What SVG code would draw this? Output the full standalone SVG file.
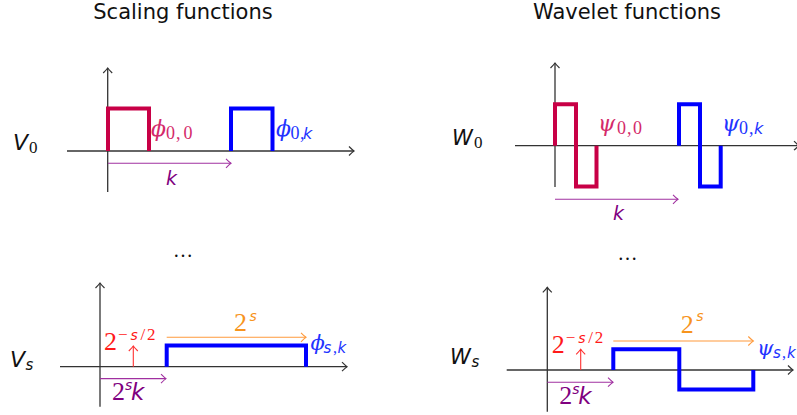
<svg xmlns="http://www.w3.org/2000/svg" width="797" height="415" viewBox="0 0 797 415">
<style>
.title{font-family:"DejaVu Sans",sans-serif;font-size:21px;fill:#111;text-anchor:middle}
.ax{stroke:#333;stroke-width:1.3;fill:none}
.fn{stroke-width:4;fill:none;stroke-linejoin:miter;stroke-linecap:butt}
.cr{stroke:#C80046}
.bl{stroke:#0000FF}
.sans{font-family:"DejaVu Sans",sans-serif;font-style:oblique}
.ser{font-family:"Liberation Serif","Times New Roman",serif}
.phi{font-family:"DejaVu Serif",serif;font-style:italic}
.blk{fill:#111}
.tcr{fill:#D42A6A}
.tbl{fill:#2233FF}
.tpu{fill:#800080}
.tor{fill:#F7941D}
.tre{fill:#FF1A1A}
</style>
<defs>
<marker id="ad" markerUnits="userSpaceOnUse" orient="auto" overflow="visible" refX="0" refY="0" markerWidth="10" markerHeight="10"><path d="M-5,-4.5 Q-1.5,-1 0,0 Q-1.5,1 -5,4.5" fill="none" stroke="#333" stroke-width="1.2"/></marker>
<marker id="ap" markerUnits="userSpaceOnUse" orient="auto" overflow="visible" refX="0" refY="0" markerWidth="10" markerHeight="10"><path d="M-5,-4.5 Q-1.5,-1 0,0 Q-1.5,1 -5,4.5" fill="none" stroke="#A030A0" stroke-width="1.1"/></marker>
<marker id="ao" markerUnits="userSpaceOnUse" orient="auto" overflow="visible" refX="0" refY="0" markerWidth="10" markerHeight="10"><path d="M-5,-4.5 Q-1.5,-1 0,0 Q-1.5,1 -5,4.5" fill="none" stroke="#FF9A3C" stroke-width="1.1"/></marker>
<marker id="ar" markerUnits="userSpaceOnUse" orient="auto" overflow="visible" refX="0" refY="0" markerWidth="10" markerHeight="10"><path d="M-5,-4.5 Q-1.5,-1 0,0 Q-1.5,1 -5,4.5" fill="none" stroke="#FF3030" stroke-width="1.1"/></marker>
</defs>

<text class="title" x="183" y="19">Scaling functions</text>
<text class="title" x="627" y="19">Wavelet functions</text>

<g id="connectors">
<line class="ax" x1="67" y1="151" x2="354" y2="151" marker-end="url(#ad)"/>
<line class="ax" x1="107.7" y1="192" x2="107.7" y2="68" marker-end="url(#ad)"/>
<line x1="108" y1="163.3" x2="231" y2="163.3" stroke="#A030A0" stroke-width="1.1" marker-end="url(#ap)"/>
<line class="ax" x1="515" y1="145.7" x2="799" y2="145.7" marker-end="url(#ad)"/>
<line class="ax" x1="555" y1="187" x2="555" y2="63" marker-end="url(#ad)"/>
<line x1="555" y1="199.3" x2="678" y2="199.3" stroke="#A030A0" stroke-width="1.1" marker-end="url(#ap)"/>
<line class="ax" x1="60" y1="366.7" x2="347" y2="366.7" marker-end="url(#ad)"/>
<line class="ax" x1="100" y1="406.7" x2="100" y2="283" marker-end="url(#ad)"/>
<line x1="100" y1="378.6" x2="166" y2="378.6" stroke="#A030A0" stroke-width="1.1" marker-end="url(#ap)"/>
<line x1="166.7" y1="337.3" x2="306" y2="337.3" stroke="#FF9A3C" stroke-width="1.1" marker-end="url(#ao)"/>
<line x1="133.3" y1="366.7" x2="133.3" y2="346" stroke="#FF3030" stroke-width="1.1" marker-end="url(#ar)"/>
<line class="ax" x1="506.7" y1="370" x2="793" y2="370" marker-end="url(#ad)"/>
<line class="ax" x1="547.3" y1="411.7" x2="547.3" y2="287.3" marker-end="url(#ad)"/>
<line x1="547.3" y1="382.2" x2="613" y2="382.2" stroke="#A030A0" stroke-width="1.1" marker-end="url(#ap)"/>
<line x1="613.3" y1="341" x2="753.3" y2="341" stroke="#FF9A3C" stroke-width="1.1" marker-end="url(#ao)"/>
<line x1="580.7" y1="370" x2="580.7" y2="349.3" stroke="#FF3030" stroke-width="1.1" marker-end="url(#ar)"/>
</g>

<g id="phi00">
<path class="fn cr" d="M108,151 V108.5 H149 V151"/>
<text class="phi tcr" x="151" y="136" font-size="22">ϕ</text>
<text class="ser tcr" font-size="18" y="139"><tspan x="166">0</tspan><tspan x="176">,</tspan><tspan x="183.5">0</tspan></text>
</g>
<g id="phi0k">
<path class="fn bl" d="M231,151 V108.5 H272.5 V151"/>
<text class="phi tbl" x="276" y="136" font-size="22">ϕ</text>
<text class="ser tbl" font-size="18" y="139"><tspan x="290.5">0</tspan><tspan x="300">,</tspan></text>
<text class="sans tbl" font-size="16" x="303" y="139">k</text>
</g>
<g id="V0">
<text class="sans blk" x="13" y="150" font-size="22">V</text>
<text class="ser blk" x="29" y="153" font-size="17">0</text>
</g>
<g id="k-top-left">
<text class="sans tpu" x="166" y="185" font-size="19">k</text>
</g>

<g id="psi00">
<path class="fn cr" d="M555,145.7 V104.3 H576 V186.5 H596.5 V145.7"/>
<text class="phi tcr" x="598" y="131" font-size="22">ψ</text>
<text class="ser tcr" font-size="18" y="133.5"><tspan x="617">0</tspan><tspan x="627">,</tspan><tspan x="633">0</tspan></text>
</g>
<g id="psi0k">
<path class="fn bl" d="M679,145.7 V104.3 H700 V186.5 H720.7 V145.7"/>
<text class="phi tbl" x="722" y="131" font-size="22">ψ</text>
<text class="ser tbl" font-size="18" y="133.5"><tspan x="739">0</tspan><tspan x="749">,</tspan></text>
<text class="sans tbl" font-size="16" x="754" y="133.5">k</text>
</g>
<g id="W0">
<text class="sans blk" x="452" y="145" font-size="21">W</text>
<text class="ser blk" x="474" y="148" font-size="17">0</text>
</g>
<g id="k-top-right">
<text class="sans tpu" x="613" y="220" font-size="19">k</text>
</g>

<g id="dots">
<text class="ser blk" x="183" y="257" font-size="20" text-anchor="middle">…</text>
<text class="ser blk" x="627.5" y="260" font-size="20" text-anchor="middle">…</text>
</g>

<g id="phisk">
<path class="fn bl" d="M166.7,366.7 V345.5 H306 V366.7"/>
<text class="phi tbl" x="310.5" y="350" font-size="21">ϕ</text>
<text class="sans tbl" font-size="15" x="323.5" y="353">s</text>
<text class="ser tbl" font-size="16" x="333" y="353">,</text>
<text class="sans tbl" font-size="15" x="337.5" y="353">k</text>
</g>
<g id="Vs">
<text class="sans blk" x="10" y="367" font-size="22">V</text>
<text class="sans blk" x="25.5" y="370" font-size="15">s</text>
</g>
<g id="labels-bottom-left">
<text class="ser tor" x="234" y="331" font-size="26">2</text>
<text class="sans tor" x="249.5" y="320.5" font-size="14">s</text>
<text class="ser tre" x="104" y="350" font-size="26">2</text>
<text class="ser tre" x="118" y="339.5" font-size="17">−</text>
<text class="sans tre" x="130.5" y="339.5" font-size="14">s</text>
<text class="ser tre" x="140.5" y="339.5" font-size="17">/</text>
<text class="ser tre" x="147" y="339.5" font-size="17">2</text>
<text class="ser tpu" x="112" y="400" font-size="26">2</text>
<text class="sans tpu" x="125" y="389.5" font-size="14">s</text>
<text class="sans tpu" x="131" y="400" font-size="23">k</text>
</g>

<g id="psisk">
<path class="fn bl" d="M613.3,370 V349.3 H679.3 V389.5 H753.3 V370"/>
<text class="phi tbl" x="757" y="355" font-size="21">ψ</text>
<text class="sans tbl" font-size="15" x="773" y="358">s</text>
<text class="ser tbl" font-size="16" x="782" y="358">,</text>
<text class="sans tbl" font-size="15" x="787" y="358">k</text>
</g>
<g id="Ws">
<text class="sans blk" x="450" y="364" font-size="21">W</text>
<text class="sans blk" x="471.5" y="367" font-size="15">s</text>
</g>
<g id="labels-bottom-right">
<text class="ser tor" x="680.7" y="333" font-size="26">2</text>
<text class="sans tor" x="696.2" y="320.5" font-size="14">s</text>
<text class="ser tre" x="551.7" y="353.3" font-size="26">2</text>
<text class="ser tre" x="565.7" y="342.8" font-size="17">−</text>
<text class="sans tre" x="578.2" y="342.8" font-size="14">s</text>
<text class="ser tre" x="588.2" y="342.8" font-size="17">/</text>
<text class="ser tre" x="594.7" y="342.8" font-size="17">2</text>
<text class="ser tpu" x="559.3" y="404" font-size="26">2</text>
<text class="sans tpu" x="572.3" y="393.5" font-size="14">s</text>
<text class="sans tpu" x="578.3" y="404" font-size="23">k</text>
</g>
</svg>
